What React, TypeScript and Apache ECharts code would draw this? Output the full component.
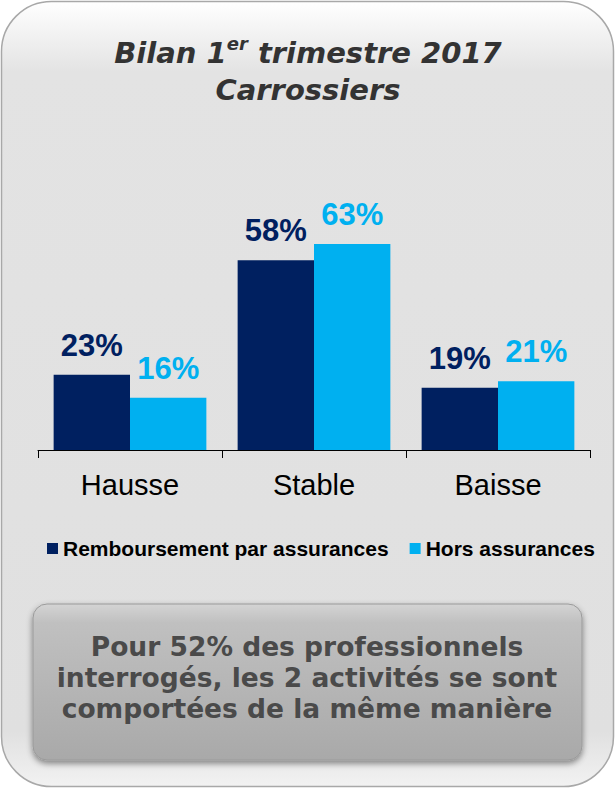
import React, { useEffect, useRef } from "react";
import * as echarts from "echarts";

const categories = ["Hausse", "Stable", "Baisse"];
const seriesNames = ["Remboursement par assurances", "Hors assurances"];
const rembValues = [23, 58, 19];
const horsValues = [16, 63, 21];
const noteLines = [
  "Pour 52% des professionnels",
  "interrogés, les 2 activités se sont",
  "comportées de la même manière",
];

const DARK = "#002060";
const LIGHT = "#00b0f0";

export default function App() {
  const ref = useRef<HTMLDivElement>(null);
  useEffect(() => {
    if (!ref.current) return;
    const chart = echarts.init(ref.current, undefined, { renderer: "svg" });
    const barLabel = (color: string) => ({
      show: true,
      position: "top",
      distance: 14,
      formatter: "{c}%",
      color,
      fontSize: 31,
      fontWeight: "bold",
      fontFamily: "Liberation Sans, Arial, sans-serif",
    });
    chart.setOption({
      animation: false,
      backgroundColor: "#ffffff",
      title: {
        left: "center",
        top: 29,
        text: "{a|Bilan 1}{s|er}{a| trimestre 2017}\n{a|Carrossiers}",
        textStyle: {
          rich: {
            a: {
              fontFamily: "DejaVu Sans, Verdana, sans-serif",
              fontStyle: "italic",
              fontWeight: "bold",
              fontSize: 29,
              color: "#333333",
              lineHeight: 37,
            },
            s: {
              fontFamily: "DejaVu Sans, Verdana, sans-serif",
              fontStyle: "italic",
              fontWeight: "bold",
              fontSize: 18,
              color: "#333333",
              lineHeight: 22,
              verticalAlign: "top",
            },
          },
        },
      },
      legend: {
        top: 533,
        left: 42,
        icon: "rect",
        itemWidth: 11,
        itemHeight: 11,
        itemGap: 21,
        data: seriesNames,
        textStyle: {
          fontSize: 21,
          fontWeight: "bold",
          color: "#000000",
          fontFamily: "Liberation Sans, Arial, sans-serif",
        },
      },
      grid: { left: 38, right: 26, top: 123, bottom: 343, containLabel: false },
      xAxis: {
        type: "category",
        data: categories,
        axisLine: { lineStyle: { color: "#000000", width: 1 } },
        axisTick: { show: true, length: 8, lineStyle: { color: "#000000" } },
        axisLabel: {
          fontSize: 29,
          color: "#000000",
          margin: 20,
          fontFamily: "Liberation Sans, Arial, sans-serif",
        },
      },
      yAxis: { type: "value", min: 0, max: 100, show: false, splitLine: { show: false } },
      series: [
        {
          name: seriesNames[0],
          type: "bar",
          data: rembValues,
          barGap: "0%",
          barCategoryGap: "17%",
          itemStyle: { color: DARK },
          label: barLabel(DARK),
        },
        {
          name: seriesNames[1],
          type: "bar",
          data: horsValues,
          itemStyle: { color: LIGHT },
          label: barLabel(LIGHT),
        },
      ],
      graphic: [
        {
          type: "rect",
          z: -100,
          silent: true,
          shape: { x: 1.5, y: 1.5, width: 612, height: 785, r: 50 },
          style: {
            fill: {
              type: "linear",
              x: 0, y: 0, x2: 0, y2: 1,
              colorStops: [
                { offset: 0, color: "#ffffff" },
                { offset: 0.09, color: "#e3e3e3" },
                { offset: 0.93, color: "#e0e0e0" },
                { offset: 1, color: "#f2f2f2" },
              ],
            },
            stroke: "#a8a8a8",
            lineWidth: 1.5,
          },
        },
        {
          type: "rect",
          z: -50,
          silent: true,
          shape: { x: 33, y: 604, width: 549, height: 156, r: 14 },
          style: {
            fill: {
              type: "linear",
              x: 0, y: 0, x2: 0, y2: 1,
              colorStops: [
                { offset: 0, color: "#d4d4d4" },
                { offset: 0.12, color: "#c0c0c0" },
                { offset: 1, color: "#a9a9a9" },
              ],
            },
            stroke: "#9a9a9a",
            lineWidth: 1,
            shadowBlur: 6,
            shadowOffsetY: 3,
            shadowColor: "rgba(0,0,0,0.45)",
          },
        },
        {
          type: "text",
          z: 10,
          silent: true,
          x: 307,
          y: 677,
          style: {
            text: noteLines.join("\n"),
            align: "center",
            verticalAlign: "middle",
            fontFamily: "DejaVu Sans, Verdana, sans-serif",
            fontWeight: "bold",
            fontSize: 26.5,
            lineHeight: 31,
            fill: "#4a4a4a",
          },
        },
      ],
    });
    return () => chart.dispose();
  }, []);
  return (
    <div
      ref={ref}
      style={{ position: "absolute", left: 0, top: 0, width: 616, height: 793 }}
    />
  );
}
